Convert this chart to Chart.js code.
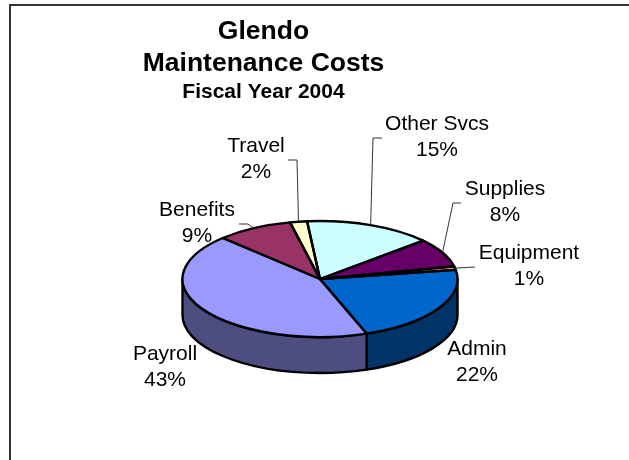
<!DOCTYPE html>
<html>
<head>
<meta charset="utf-8">
<title>Glendo Maintenance Costs</title>
<script src="https://cdn.jsdelivr.net/npm/chart.js@4"></script>
<style>
  html, body { margin: 0; padding: 0; background: #fff; }
  #frame { position: absolute; left: 9px; top: 4px; right: 0; bottom: 0; border-left: 2px solid #333; border-top: 2px solid #333; }
  #wrap { position: absolute; left: 0; top: 0; width: 629px; height: 460px; }
</style>
</head>
<body>
<div id="frame"></div>
<div id="wrap"><canvas id="chart-costos" width="629" height="460"></canvas></div>
<script>
/* Datos */
const categories = ['Admin', 'Payroll', 'Benefits', 'Travel', 'Other Svcs', 'Supplies', 'Equipment'];
const percents = [22, 43, 9, 2, 15, 8, 1];
const titleLines = ['Glendo', 'Maintenance Costs'];
const subtitleText = 'Fiscal Year 2004';

/* Colores */
const topColors = ['#0066CC', '#9999FF', '#993366', '#FFFFCC', '#CCFFFF', '#660066', '#FF8080'];
const sideColors = ['#003366', '#4D4D80', '#4D1A33', '#808066', '#668080', '#330033', '#804040'];

/* Posicion de las etiquetas y lineas guia */
const labelCenters = [[477, 349], [165, 354], [197, 210], [256, 146], [437, 124], [505, 189], [529, 253]];
const leaderBends = [null, null, [[248, 224], [239, 224]], [[297, 160], [288, 160]], [[373, 138], [382, 138]], [[453, 203], [461, 203]], [[475, 267]]];

const pieX = 320;
const pieY = 279;
const pieR = 137.5;
const squash = 58 / 137.5;
const depth = 36;

const ellipsePath = (ctx, cx, cy, a0, a1, back) => ctx.ellipse(cx, cy, pieR, pieR * squash, 0, a0, a1, back);

/* Pie inclinado con borde lateral */
const tiltPlugin = {
  id: 'tilt',
  beforeDatasetsDraw(chart) {
    const ctx = chart.ctx;
    const arcs = chart.getDatasetMeta(0).data;

    // costado visible, solo la mitad de adelante
    arcs.forEach((arc, i) => {
      const two = Math.PI * 2;
      [0, two].forEach(shift => {
        const a0 = Math.max(arc.startAngle, shift);
        const a1 = Math.min(arc.endAngle, shift + Math.PI);
        if (a1 <= a0) return;
        ctx.beginPath();
        ellipsePath(ctx, pieX, pieY, a0, a1, false);
        ellipsePath(ctx, pieX, pieY + depth, a1, a0, true);
        ctx.closePath();
        ctx.fillStyle = sideColors[i];
        ctx.fill();
        ctx.lineWidth = 2.4;
        ctx.lineJoin = 'round';
        ctx.strokeStyle = '#000';
        ctx.stroke();
      });
    });

    const first = arcs[0];
    ctx.save();
    ctx.translate(pieX, pieY);
    ctx.scale(1, squash);
    ctx.translate(-first.x, -first.y);
  },
  afterDatasetsDraw(chart) {
    const ctx = chart.ctx;
    const arcs = chart.getDatasetMeta(0).data;
    ctx.restore();

    // contorno con grosor parejo
    ctx.lineWidth = 2.4;
    ctx.lineJoin = 'round';
    ctx.strokeStyle = '#000';
    arcs.forEach(arc => {
      ctx.beginPath();
      ctx.moveTo(pieX, pieY);
      ellipsePath(ctx, pieX, pieY, arc.startAngle, arc.endAngle, false);
      ctx.closePath();
      ctx.stroke();
    });

    // lineas guia
    ctx.lineWidth = 1;
    ctx.strokeStyle = '#333';
    arcs.forEach((arc, i) => {
      if (!leaderBends[i]) return;
      const mid = (arc.startAngle + arc.endAngle) / 2;
      ctx.beginPath();
      ctx.moveTo(pieX + Math.cos(mid) * pieR, pieY + Math.sin(mid) * pieR * squash);
      leaderBends[i].forEach(p => ctx.lineTo(p[0], p[1]));
      ctx.stroke();
    });

    // etiquetas
    ctx.fillStyle = '#000';
    ctx.font = '21px "Liberation Sans", Arial, sans-serif';
    ctx.textAlign = 'center';
    ctx.textBaseline = 'middle';
    categories.forEach((name, i) => {
      ctx.fillText(name, labelCenters[i][0], labelCenters[i][1]);
      ctx.fillText(percents[i] + '%', labelCenters[i][0], labelCenters[i][1] + 26);
    });
  }
};

new Chart(document.getElementById('chart-costos').getContext('2d'), {
  type: 'pie',
  data: {
    labels: categories,
    datasets: [{
      data: percents,
      backgroundColor: topColors,
      borderWidth: 0,
      radius: pieR
    }]
  },
  options: {
    responsive: false,
    animation: false,
    rotation: 81,
    layout: { padding: { right: 102 } },
    plugins: {
      legend: { display: false },
      tooltip: { enabled: false },
      title: {
        display: true,
        text: titleLines,
        color: '#000',
        font: { family: '"Liberation Sans", Arial, sans-serif', size: 26.5, weight: 'bold', lineHeight: 1.2 },
        padding: { top: 16, bottom: 0 }
      },
      subtitle: {
        display: true,
        text: subtitleText,
        color: '#000',
        font: { family: '"Liberation Sans", Arial, sans-serif', size: 21, weight: 'bold', lineHeight: 1.2 },
        padding: { top: 0, bottom: 0 }
      }
    }
  },
  plugins: [tiltPlugin]
});
</script>
</body>
</html>
